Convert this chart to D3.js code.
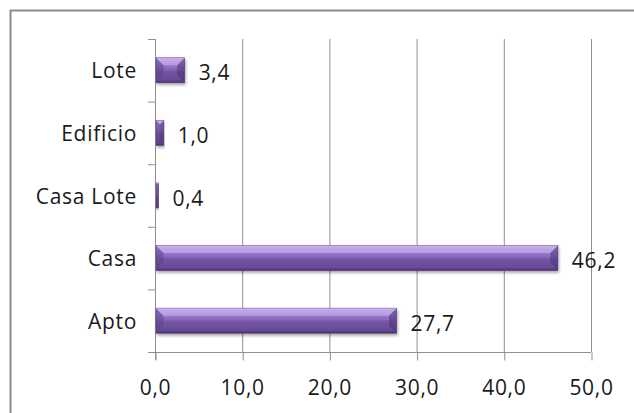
<!DOCTYPE html>
<html>
<head>
<meta charset="utf-8">
<script src="https://cdn.jsdelivr.net/npm/d3@7"></script>
<style>
  html, body { margin: 0; padding: 0; background: #fff; }
  svg { display: block; }
  text { font-family: "Open Sans", "Liberation Sans", sans-serif; fill: #1a1a1a; }
</style>
</head>
<body>
<svg id="chart" width="634" height="413"></svg>
<script>
// Property types, listed from bottom to top
const categories = ["Apto", "Casa", "Casa Lote", "Edificio", "Lote"];
const values = [27.7, 46.2, 0.4, 1.0, 3.4];
const xTicks = [0, 10, 20, 30, 40, 50];

const fmt = v => d3.format(".1f")(v).replace(".", ",");
const FS = 21, LS = 0.7;

const svg = d3.select("#chart");
const W = 634, H = 413;
const margin = { left: 155, right: 43, top: 39, bottom: 61 };
const innerW = W - margin.left - margin.right;
const innerH = H - margin.top - margin.bottom;

// outer frame
svg.append("rect")
  .attr("x", 10.5).attr("y", 10.5)
  .attr("width", 640).attr("height", 420)
  .attr("fill", "#fff").attr("stroke", "#8c8c8c").attr("stroke-width", 2);

const defs = svg.append("defs");
const grad = defs.append("linearGradient").attr("id", "barFace")
  .attr("x1", 0).attr("y1", 0).attr("x2", 0).attr("y2", 1);
[["0%", "#c5a8ec"], ["12%", "#aa8cd8"], ["45%", "#8868bc"], ["55%", "#7354a4"], ["88%", "#684b98"], ["100%", "#472e6b"]]
  .forEach(([o, c]) => grad.append("stop").attr("offset", o).attr("stop-color", c));

const shadow = defs.append("filter").attr("id", "shadow")
  .attr("x", "-5%").attr("y", "-20%").attr("width", "115%").attr("height", "160%");
shadow.append("feGaussianBlur").attr("in", "SourceAlpha").attr("stdDeviation", 1.5);
shadow.append("feOffset").attr("dx", 1).attr("dy", 2).attr("result", "off");
shadow.append("feComponentTransfer").append("feFuncA").attr("type", "linear").attr("slope", 0.35);
const merge = shadow.append("feMerge");
merge.append("feMergeNode");
merge.append("feMergeNode").attr("in", "SourceGraphic");

const g = svg.append("g").attr("transform", `translate(${margin.left},${margin.top})`);

const x = d3.scaleLinear().domain([0, 50]).range([0, innerW]);
const y = d3.scaleBand().domain(categories).range([innerH, 0]).paddingInner(0.6).paddingOuter(0.3);
const yEdges = d3.range(categories.length + 1).map(i => innerH - i * innerH / categories.length);

// vertical gridlines
g.selectAll("line.grid").data(xTicks.slice(1)).join("line")
  .attr("class", "grid")
  .attr("x1", d => x(d) + 0.5).attr("x2", d => x(d) + 0.5)
  .attr("y1", 0).attr("y2", innerH)
  .attr("stroke", "#8f8f8f").attr("stroke-width", 1);

// x axis
const xAxis = g.append("g").attr("transform", `translate(0,${innerH + 0.5})`)
  .call(d3.axisBottom(x).tickValues(xTicks).tickFormat(fmt).tickSize(8).tickPadding(20));
xAxis.select(".domain").attr("stroke", "#8f8f8f").attr("d", `M0,0H${innerW}`);
xAxis.selectAll(".tick line").attr("stroke", "#8f8f8f").attr("transform", "translate(0.5,0)");
xAxis.selectAll(".tick text").attr("font-size", FS).attr("fill", "#1a1a1a")
  .attr("letter-spacing", LS)
  .attr("font-family", "'Open Sans', sans-serif");

// y axis line and ticks between categories
g.append("line").attr("x1", 0.5).attr("x2", 0.5).attr("y1", 0).attr("y2", innerH + 8)
  .attr("stroke", "#8f8f8f");
g.selectAll("line.ytick").data(yEdges).join("line").attr("class", "ytick")
  .attr("x1", -7).attr("x2", 0).attr("y1", d => d + 0.5).attr("y2", d => d + 0.5)
  .attr("stroke", "#8f8f8f");

// category labels
g.selectAll("text.cat").data(categories).join("text").attr("class", "cat")
  .attr("x", -18).attr("y", d => y(d) + y.bandwidth() / 2)
  .attr("text-anchor", "end").attr("dominant-baseline", "central")
  .attr("letter-spacing", LS)
  .attr("font-size", FS).text(d => d);

// bars
const data = categories.map((c, i) => ({ c, v: values[i] }));
const bars = g.selectAll("g.bar").data(data).join("g").attr("class", "bar")
  .attr("filter", "url(#shadow)");
bars.append("rect")
  .attr("x", 1).attr("y", d => y(d.c))
  .attr("width", d => Math.max(1, x(d.v) - 1)).attr("height", y.bandwidth())
  .attr("fill", "url(#barFace)").attr("stroke", "#5a3f84").attr("stroke-width", 0.6);
// bevel facets at each end
const bevel = d => Math.min(y.bandwidth() * 0.3, (x(d.v) - 1) / 2);
bars.append("path")
  .attr("d", d => {
    const x0 = 1, y0 = y(d.c), h = y.bandwidth(), b = bevel(d);
    return `M${x0},${y0}L${x0 + b},${y0 + b}L${x0 + b},${y0 + h - b}L${x0},${y0 + h}Z`;
  })
  .attr("fill", "#5b3f86").attr("opacity", 0.5);
bars.append("path")
  .attr("d", d => {
    const x1 = x(d.v), y0 = y(d.c), h = y.bandwidth(), b = bevel(d);
    return `M${x1},${y0}L${x1 - b},${y0 + b}L${x1 - b},${y0 + h - b}L${x1},${y0 + h}Z`;
  })
  .attr("fill", "#4a3070").attr("opacity", 0.5);
bars.append("path")
  .attr("d", d => {
    const x0 = 1, x1 = x(d.v), y0 = y(d.c), b = bevel(d);
    return `M${x0},${y0}L${x1},${y0}L${x1 - b},${y0 + b}L${x0 + b},${y0 + b}Z`;
  })
  .attr("fill", "#d4bdf3").attr("opacity", 0.5);

// value labels
g.selectAll("text.val").data(data).join("text").attr("class", "val")
  .attr("x", d => x(d.v) + 14).attr("y", d => y(d.c) + y.bandwidth() / 2 + 2)
  .attr("dominant-baseline", "central").attr("font-size", FS)
  .attr("letter-spacing", LS)
  .text(d => fmt(d.v));
</script>
</body>
</html>
